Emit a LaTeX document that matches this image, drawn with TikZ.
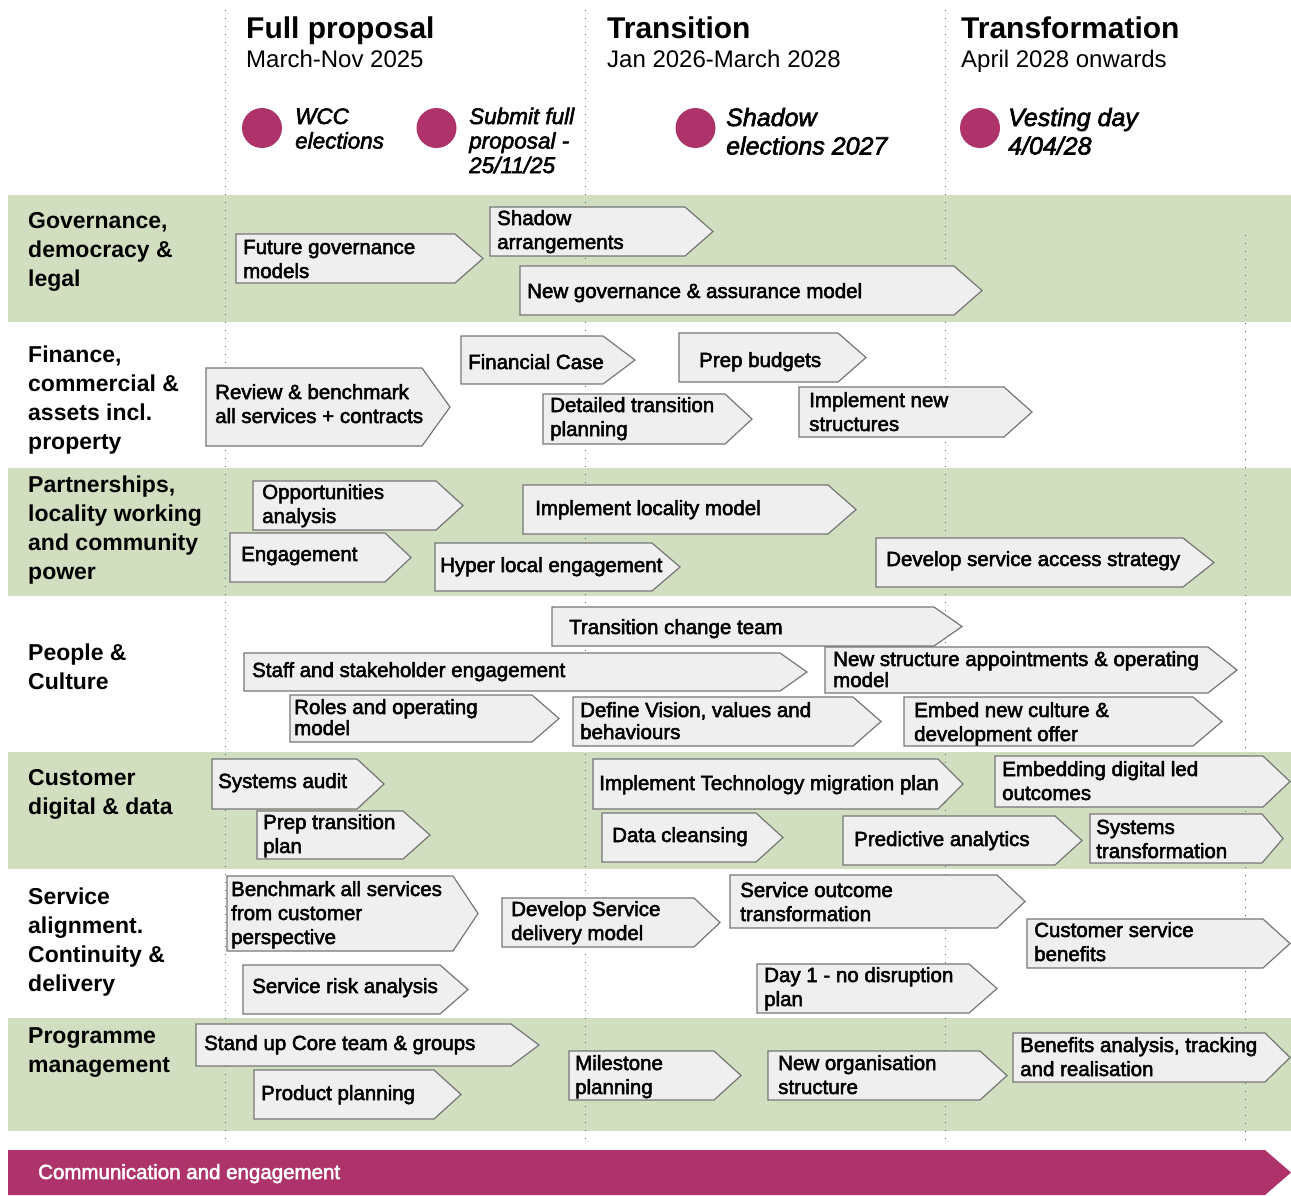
\documentclass[tikz,border=0pt]{standalone}
\usepackage{fontspec}
\setmainfont{Liberation Sans}
\newfontfamily\medfont[FakeBold=2.5]{Liberation Sans}
\definecolor{band}{HTML}{D1DEBF}
\definecolor{boxfill}{HTML}{EFEFEF}
\definecolor{boxline}{HTML}{767676}
\definecolor{magenta}{HTML}{AE336B}
\definecolor{dotblue}{HTML}{3A6B98}
\tikzset{
  bandfill/.style={fill=band, draw=none},
  chevbox/.style={fill=boxfill, draw=boxline, line width=1.2pt, line join=miter},
  boxtext/.style={anchor=base west, inner sep=0pt, font=\medfont\fontsize{20.5}{24}\selectfont},
  rowlabel/.style={anchor=base west, inner sep=0pt, font=\bfseries\fontsize{23}{29}\selectfont},
  phase/.style={anchor=base west, inner sep=0pt, font=\bfseries\fontsize{30}{36}\selectfont},
  phasedate/.style={anchor=base west, inner sep=0pt, font=\fontsize{24}{28}\selectfont},
  mcirc/.style={circle, fill=magenta, draw=none, minimum size=40pt, inner sep=0pt},
  mtextA/.style={anchor=base west, inner sep=0pt, font=\medfont\itshape\fontsize{22.5}{24.5}\selectfont},
  mtextB/.style={anchor=base west, inner sep=0pt, font=\medfont\itshape\fontsize{25}{28.5}\selectfont},
  dotline/.style={draw=dotblue, line width=1pt, dash pattern=on 1pt off 7pt},
  commbar/.style={fill=magenta, draw=none},
  commtext/.style={anchor=base west, inner sep=0pt, text=white, font=\medfont\fontsize{20.5}{24}\selectfont},
}
\newcommand\ml[1]{\begin{tabular}[t]{@{}l@{}}#1\end{tabular}}
\newcommand\chev[9]{%
  \draw[chevbox] (#2,#5) -- (#3,#5) -- (#4,{(#5+#6)/2}) -- (#3,#6) -- (#2,#6) -- cycle;
  \node[boxtext] (#1) at (#7,#8) {\ml{#9}};
}
\begin{document}
\begin{tikzpicture}[x=1pt,y=-1pt]
\useasboundingbox (0,0) rectangle (1291,1195);
% bands
\fill[bandfill] (8,195) rectangle (1291,322);
\fill[bandfill] (8,468) rectangle (1291,596);
\fill[bandfill] (8,752) rectangle (1291,869);
\fill[bandfill] (8,1018) rectangle (1291,1131);
% dotted phase lines
\draw[dotline] (225,10) -- (225,1145);
\draw[dotline] (585,10) -- (585,1145);
\draw[dotline] (945,10) -- (945,1145);
\draw[dotline] (1245,235) -- (1245,1145);
% headers
\node[phase] (h1) at (246,38) {Full proposal};
\node[phasedate] (d1) at (246,67) {March-Nov 2025};
\node[phase] (h2) at (607,38) {Transition};
\node[phasedate] (d2) at (607,67) {Jan 2026-March 2028};
\node[phase] (h3) at (961,38) {Transformation};
\node[phasedate] (d3) at (961,67) {April 2028 onwards};
% milestones
\node[mcirc] (c1) at (262,128) {};
\node[mtextA] (t1) at (295,124) {\ml{WCC\\elections}};
\node[mcirc] (c2) at (436.5,128) {};
\node[mtextA] (t2) at (469,124) {\ml{Submit full\\proposal -\\25/11/25}};
\node[mcirc] (c3) at (695.5,128) {};
\node[mtextB] (t3) at (726,126) {\ml{Shadow\\elections 2027}};
\node[mcirc] (c4) at (980,128) {};
\node[mtextB] (t4) at (1008,126) {\ml{Vesting day\\4/04/28}};
% row labels
\node[rowlabel] (r1) at (28,228) {\ml{Governance,\\democracy \&\\legal}};
\node[rowlabel] (r2) at (28,362) {\ml{Finance,\\commercial \&\\assets incl.\\property}};
\node[rowlabel] (r3) at (28,492) {\ml{Partnerships,\\locality working\\and community\\power}};
\node[rowlabel] (r4) at (28,660) {\ml{People \&\\Culture}};
\node[rowlabel] (r5) at (28,785) {\ml{Customer\\digital \& data}};
\node[rowlabel] (r6) at (28,904) {\ml{Service\\alignment.\\Continuity \&\\delivery}};
\node[rowlabel] (r7) at (28,1043) {\ml{Programme\\management}};
% governance
\chev{fgm}{236}{455}{483}{234}{283}{243}{254}{Future governance\\models}
\chev{shad}{490}{685}{713}{207}{256}{497}{225}{Shadow\\arrangements}
\chev{ngam}{520}{954}{982}{266}{315}{527}{298}{New governance \& assurance model}
% finance
\chev{rev}{206}{422}{450}{368}{446}{215}{399}{Review \& benchmark\\all services + contracts}
\chev{fin}{461}{603}{635}{336}{384}{468}{369}{Financial Case}
\chev{prep}{679}{838}{866}{333}{382}{699}{367}{Prep budgets}
\chev{dtp}{543}{725}{752}{394}{444}{550}{412}{Detailed transition\\planning}
\chev{ins}{799}{1004}{1032}{387}{437}{809}{407}{Implement new\\structures}
% partnerships
\chev{opp}{253}{436}{463}{481}{530}{262}{499}{Opportunities\\analysis}
\chev{eng}{230}{385}{411}{533}{582}{241}{561}{Engagement}
\chev{ilm}{523}{828}{856}{485}{534}{535}{515}{Implement locality model}
\chev{hle}{435}{652}{680}{543}{591}{440}{572}{Hyper local engagement}
\chev{dsas}{876}{1183}{1214}{538}{587}{886}{566}{Develop service access strategy}
% people
\chev{tct}{552}{934}{962}{607}{646}{569}{634}{Transition change team}
\chev{sse}{244}{780}{807}{653}{691}{252}{677}{Staff and stakeholder engagement}
\chev{nsa}{825}{1208}{1237}{647}{693}{833}{666}{New structure appointments \& operating\\[-3pt]model}
\chev{rom}{290}{532}{559}{695}{742}{294}{714}{Roles and operating\\[-3pt]model}
\chev{dvv}{573}{853}{881}{697}{746}{580}{717}{Define Vision, values and\\[-2pt]behaviours}
\chev{enc}{904}{1193}{1222}{697}{746}{914}{717}{Embed new culture \&\\development offer}
% customer digital
\chev{sa}{212}{357}{384}{759}{809}{218}{788}{Systems audit}
\chev{ptp}{257}{403}{430}{811}{859}{263}{829}{Prep transition\\plan}
\chev{itmp}{593}{938}{963}{759}{809}{599}{790}{Implement Technology migration plan}
\chev{dc}{602}{756}{783}{813}{862}{612}{842}{Data cleansing}
\chev{edl}{995}{1263}{1290}{756}{807}{1002}{776}{Embedding digital led\\outcomes}
\chev{pa}{843}{1055}{1082}{816}{865}{854}{846}{Predictive analytics}
\chev{st}{1090}{1262}{1283}{814}{863}{1096}{834}{Systems\\transformation}
% service
\chev{bas}{227}{453}{478}{876}{951}{231}{896}{Benchmark all services\\from customer\\perspective}
\chev{dsdm}{502}{694}{720}{898}{947}{511}{916}{Develop Service\\delivery model}
\chev{sot}{730}{997}{1025}{875}{928}{740}{897}{Service outcome\\transformation}
\chev{dayone}{757}{969}{997}{964}{1013}{764}{982}{Day 1 - no disruption\\plan}
\chev{csb}{1027}{1263}{1290}{919}{968}{1034}{937}{Customer service\\benefits}
\chev{sra}{243}{440}{468}{965}{1014}{252}{993}{Service risk analysis}
% programme
\chev{sucg}{196}{511}{539}{1024}{1066}{204}{1050}{Stand up Core team \& groups}
\chev{pp}{254}{434}{461}{1070}{1119}{261}{1100}{Product planning}
\chev{mp}{569}{714}{741}{1051}{1100}{575}{1070}{Milestone\\planning}
\chev{nos}{768}{980}{1007}{1051}{1100}{778}{1070}{New organisation\\structure}
\chev{bat}{1013}{1265}{1290}{1033}{1082}{1020}{1052}{Benefits analysis, tracking\\and realisation}
% communication bar
\fill[commbar] (8,1150) -- (1265,1150) -- (1291,1172.5) -- (1265,1195) -- (8,1195) -- cycle;
\node[commtext] (comm) at (38,1179) {Communication and engagement};
\end{tikzpicture}
\end{document}
